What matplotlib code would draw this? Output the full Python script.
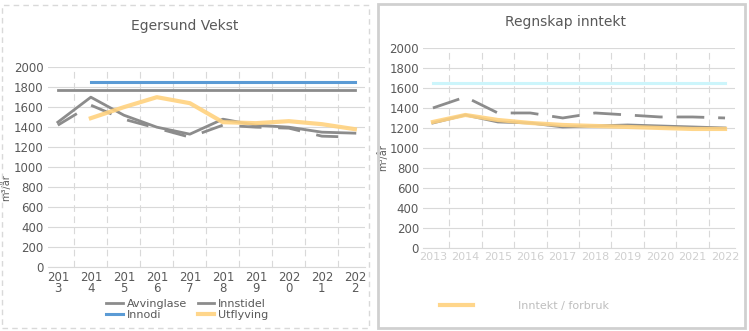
import numpy as np
import matplotlib.pyplot as plt
from matplotlib.patches import Rectangle

# Data (values per year)
years = ["2013", "2014", "2015", "2016", "2017", "2018", "2019", "2020", "2021", "2022"]

left_upper_gray = [1450, 1700, 1520, 1400, 1330, 1480, 1420, 1400, 1350, 1340]
left_lower_gray = [1420, 1620, 1480, 1390, 1300, 1420, 1400, 1390, 1310, 1300]
left_yellow = [np.nan, 1490, 1600, 1700, 1640, 1450, 1440, 1460, 1430, 1380]
left_blue = [np.nan, 1850, 1850, 1850, 1850, 1850, 1850, 1850, 1850, 1850]
left_flat_gray = [1770] * 10

right_cyan = [1650] * 10
right_upper_gray = [1400, 1510, 1350, 1350, 1300, 1350, 1330, 1310, 1310, 1300]
right_lower_gray = [1250, 1330, 1260, 1250, 1210, 1220, 1230, 1220, 1210, 1200]
right_yellow = [1260, 1330, 1280, 1250, 1230, 1220, 1210, 1200, 1190, 1190]

left_legend = ["Avvinglase", "Innodi", "Innstidel", "Utflyving"]
GRID = "#d9d9d9"
GRAY = "#8c8c8c"
TEXT = "#595959"


def style_axes(ax):
    ax.set_ylim(0, 2000)
    ax.set_yticks(range(0, 2001, 200))
    ax.set_xlim(-0.3, 9.3)
    ax.set_xticks(range(10))
    ax.grid(axis="y", color=GRID, lw=0.8)
    for xb in np.arange(-0.5, 10, 1):
        ax.axvline(xb, color=GRID, lw=0.8, ls=(0, (6, 4)), zorder=0)
    for s in ["top", "right", "left"]:
        ax.spines[s].set_visible(False)
    ax.spines["bottom"].set_color(GRID)
    ax.tick_params(length=0, labelsize=8.5, colors=TEXT, pad=3)


fig = plt.figure(figsize=(7.49, 3.31), dpi=100)
fig.patches.append(Rectangle((0.003, 0.01), 0.49, 0.975, transform=fig.transFigure,
                             fill=False, ec="#d9d9d9", lw=1, ls=(0, (4, 3))))
fig.patches.append(Rectangle((0.505, 0.008), 0.49, 0.98, transform=fig.transFigure,
                             fill=False, ec="#d0d0d0", lw=2))

x = np.arange(10)

ax1 = fig.add_axes([0.064, 0.193, 0.423, 0.604])
style_axes(ax1)
l1, = ax1.plot(x, left_flat_gray, color=GRAY, lw=2)
l2, = ax1.plot(x, left_blue, color="#5b9bd5", lw=2.2)
l3, = ax1.plot(x, left_upper_gray, color=GRAY, lw=2)
ax1.plot(x, left_lower_gray, color=GRAY, lw=2, ls=(0, (8, 6)))
l4, = ax1.plot(x, left_yellow, color="#ffd27f", lw=3, alpha=0.9)
ax1.set_xticklabels([y[:3] + "\n" + y[3:] for y in years], linespacing=0.8)
ax1.set_ylabel("m³/år", fontsize=7, color=TEXT)
ax1.yaxis.set_label_coords(-0.115, 0.4)
fig.text(0.247, 0.92, "Egersund Vekst", ha="center", va="center", fontsize=10, color=TEXT)
fig.legend([l1, l2, l3, l4], left_legend, loc="center", bbox_to_anchor=(0.25, 0.065),
           ncol=2, frameon=False, fontsize=8, handlelength=1.5, columnspacing=1,
           labelspacing=0.05, handletextpad=0.3, labelcolor=TEXT)

ax2 = fig.add_axes([0.565, 0.251, 0.416, 0.604])
style_axes(ax2)
ax2.plot(x, right_cyan, color="#ccf5fb", lw=2.2)
ax2.plot(x, right_upper_gray, color=GRAY, lw=2, ls=(0, (10, 5)))
ax2.plot(x, right_lower_gray, color=GRAY, lw=2)
r4, = ax2.plot(x, right_yellow, color="#ffd27f", lw=3, alpha=0.9)
ax2.set_xticklabels(years, color="#d0d0d0", fontsize=8)
ax2.set_ylabel("m³/år", fontsize=7, color=TEXT)
ax2.yaxis.set_label_coords(-0.112, 0.45)
fig.text(0.755, 0.935, "Regnskap inntekt", ha="center", va="center", fontsize=10, color=TEXT)
fig.legend([r4], ["Inntekt / forbruk"], loc="center", bbox_to_anchor=(0.7, 0.075),
           frameon=False, fontsize=8, handlelength=3, handletextpad=4, labelcolor="#bfbfbf")

fig.savefig("out.png", dpi=100, facecolor="white")
